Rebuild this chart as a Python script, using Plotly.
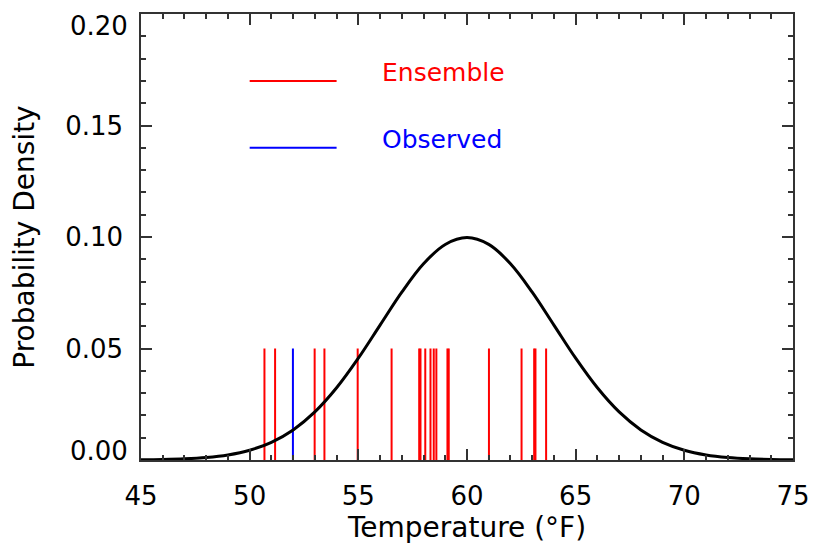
import plotly.graph_objects as go

# Fitted density of temperature (°F), sampled at each whole degree
temp_grid = list(range(45, 76))
density = [0.00009, 0.00022, 0.00051, 0.00111, 0.00227, 0.00438, 0.00794,
           0.01350, 0.02157, 0.03238, 0.04566, 0.06050, 0.07528, 0.08802,
           0.09667, 0.09974, 0.09667, 0.08802, 0.07528, 0.06050, 0.04566,
           0.03238, 0.02157, 0.01350, 0.00794, 0.00438, 0.00227, 0.00111,
           0.00051, 0.00022, 0.00009]

# Ensemble member forecasts and the observed value (°F)
ensemble = [50.68, 51.17, 52.99, 53.44, 54.97, 56.53, 57.80, 57.86, 58.08,
            58.32, 58.47, 58.59, 59.10, 59.16, 61.01, 62.51, 63.09, 63.15,
            63.64]
observed = [51.99]
stick_height = 0.05

x_ticks = [45, 50, 55, 60, 65, 70, 75]
y_ticks = [0.00, 0.05, 0.10, 0.15, 0.20]

FONT = "DejaVu Sans"
TICK_SIZE = 26
TITLE_SIZE = 28


def sticks(values, h):
    xs, ys = [], []
    for v in values:
        xs += [v, v, None]
        ys += [0, h, None]
    return xs, ys


fig = go.Figure()

ex, ey = sticks(ensemble, stick_height)
fig.add_trace(go.Scatter(x=ex, y=ey, mode="lines",
                         line=dict(color="#ff0000", width=2),
                         hoverinfo="skip", showlegend=False))
ox, oy = sticks(observed, stick_height)
fig.add_trace(go.Scatter(x=ox, y=oy, mode="lines",
                         line=dict(color="#0000ff", width=2),
                         hoverinfo="skip", showlegend=False))
fig.add_trace(go.Scatter(x=temp_grid, y=density, mode="lines",
                         line=dict(color="black", width=3, shape="spline",
                                   smoothing=1.0),
                         showlegend=False))

# In-plot key
key = [("Ensemble", "#ff0000", 0.170), ("Observed", "#0000ff", 0.140)]
for label, color, yk in key:
    fig.add_shape(type="line", x0=50, x1=54, y0=yk, y1=yk, xref="x", yref="y",
                  line=dict(color=color, width=2))
    fig.add_annotation(x=56, y=yk, xref="x", yref="y", text=label,
                       showarrow=False, xanchor="left", yanchor="middle",
                       yshift=8, font=dict(family=FONT, size=25, color=color))

axis_common = dict(
    showline=True, linecolor="#333333", linewidth=1.5, mirror="ticks",
    ticks="inside", ticklen=11, tickwidth=1.5, tickcolor="#333333",
    showgrid=False, zeroline=False,
    tickfont=dict(family=FONT, size=TICK_SIZE, color="black"),
)

fig.update_xaxes(range=[45, 75], tickvals=x_ticks,
                 ticktext=[str(v) for v in x_ticks],
                 minor=dict(ticks="inside", ticklen=5, dtick=1, tick0=45,
                            tickcolor="#333333", tickwidth=1.5),
                 title=dict(text="Temperature (°F)", standoff=6,
                            font=dict(family=FONT, size=TITLE_SIZE,
                                      color="black")),
                 ticklabelstandoff=12,
                 **axis_common)

# The end labels of the y axis sit just inside the frame, so they are
# placed as annotations nudged toward the middle.
y_end = {y_ticks[0]: -9, y_ticks[-1]: 12}
fig.update_yaxes(range=[0, 0.20], tickvals=y_ticks,
                 ticktext=["" if v in y_end else f"{v:.2f}" for v in y_ticks],
                 minor=dict(ticks="inside", ticklen=5, dtick=0.01, tick0=0,
                            tickcolor="#333333", tickwidth=1.5),
                 title=dict(text="Probability Density", standoff=22,
                            font=dict(family=FONT, size=TITLE_SIZE,
                                      color="black")),
                 ticklabelstandoff=11,
                 **axis_common)
for v, shift in y_end.items():
    fig.add_annotation(x=0, xref="paper", y=v, yref="y", text=f"{v:.2f}",
                       showarrow=False, xanchor="right", yanchor="middle",
                       xshift=-11, yshift=-shift,
                       font=dict(family=FONT, size=TICK_SIZE, color="black"))

fig.update_layout(
    width=822, height=550,
    margin=dict(l=141, r=21, t=12, b=90),
    paper_bgcolor="white", plot_bgcolor="white",
    font=dict(family=FONT),
)

fig.write_html("out.html")
